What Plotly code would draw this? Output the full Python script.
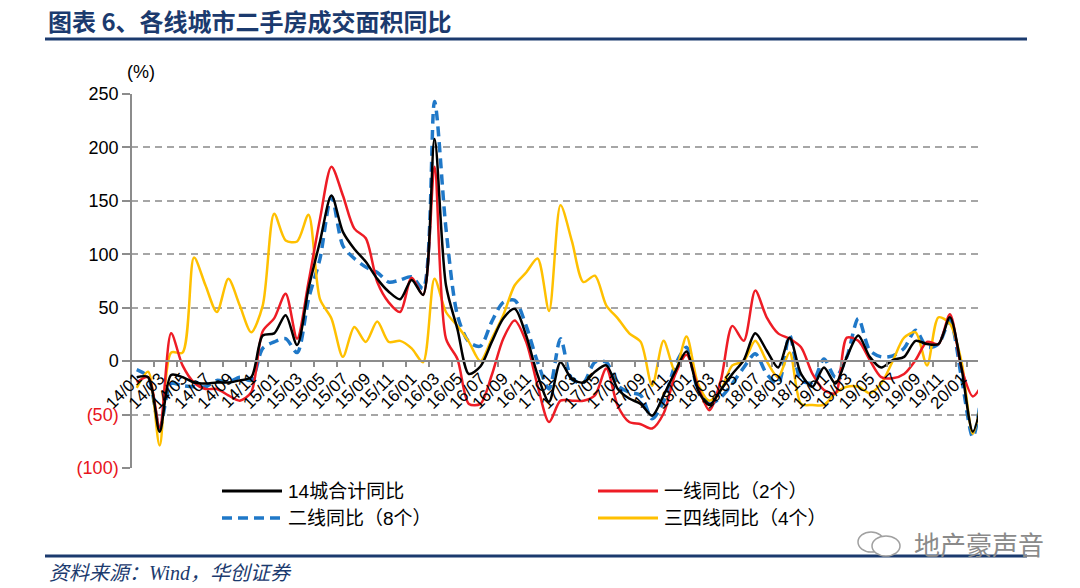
import plotly.graph_objects as go

# monthly, 2014/01 .. 2020/03 (last month sits just past the axis end)
months = [f"{y:02d}/{m:02d}" for y in range(14, 21) for m in range(1, 13)][:75]
tick_labels = months[0:73:2]

total_14 = [-15, -15, -66, -13, -15, -20, -21, -20, -20, -18, -15, 24, 26, 43, 15, 68, 112, 155, 121, 105,
            93, 77, 65, 58, 76, 62, 208, 71, 30, -12, -5, 18, 40, 49, 24, -13, -38, -1, -17, -20,
            -10, -4, -26, -35, -40, -51, -32, -10, 9, -27, -41, -27, -12, 1, 26, 10, -6, 22, -12, -24,
            -6, -21, 4, 24, 4, -6, 1, 4, 19, 16, 16, 41, -6, -66, -25]
tier1 = [-20, -15, -62, 26, -4, -20, -26, -26, -32, -37, -29, 28, 40, 63, 21, 74, 133, 182, 155, 124,
         115, 74, 55, 46, 78, 62, 182, 21, 2, -40, -40, -13, 21, 38, 18, -23, -57, -37, -37, -37,
         -32, -7, -42, -57, -59, -63, -49, -13, 6, -24, -46, -18, 33, 19, 66, 41, 26, 21, 13, -12,
         -27, -30, 22, 19, 1, -15, -16, -12, 1, 18, 16, 44, -6, -33, -18]
tier2 = [-8, -15, -63, -21, -23, -24, -24, -18, -20, -15, -18, 12, 18, 21, 8, 58, 96, 154, 108, 96,
         88, 83, 74, 76, 79, 68, 243, 124, 43, 18, 14, 37, 55, 57, 33, -1, -26, 21, -17, -20,
         -1, -1, -23, -29, -32, -54, -38, -4, 13, -27, -40, -34, -21, -6, 7, -12, -21, 24, -18, -20,
         2, -15, 4, 40, 10, 4, 5, 12, 29, 13, 16, 38, -15, -71, -12]
tier34 = [-25, -10, -79, 8, 8, 97, 71, 46, 77, 52, 27, 52, 138, 113, 112, 137, 58, 40, 4, 32,
          18, 37, 18, 19, 12, -1, 77, 46, 33, 18, 0, 21, 43, 71, 83, 96, 47, 146, 112, 74,
          80, 52, 40, 26, 18, -23, 19, -9, 23, -21, -37, -27, -4, 0, 19, 0, -15, 8, -40, -41,
          -41, -30, -24, -24, -30, -21, 0, 22, 27, -4, 41, 35, 0, -68, -20]

y_ticks = [-100, -50, 0, 50, 100, 150, 200, 250]

NAVY = "#1B3A6E"
GREY = "#8C8C8C"
BASE_FONT = "Liberation Sans, Noto Sans CJK SC, sans-serif"
CJK_FONT = "Noto Sans CJK SC, sans-serif"

# plot area in pixels
PL, PR, PT, PB = 131, 978, 94, 468


def px(x):
    return (x - PL) / (PR - PL)


def py(y):
    return (PB - y) / (PB - PT)


def y_label(v):
    if v < 0:
        return f'<span style="color:#E8141B">({-v})</span>'
    return str(v)


series = [
    ("14城合计同比", total_14, "#000000", "solid", 2.5),
    ("一线同比（2个）", tier1, "#EE1C25", "solid", 2.5),
    ("二线同比（8个）", tier2, "#1F78C8", "10px,6px", 3.5),
    ("三四线同比（4个）", tier34, "#FFC000", "solid", 2.5),
]

fig = go.Figure()
for name, vals, color, dash, width in series:
    fig.add_trace(go.Scatter(
        x=months, y=vals, name=name, mode="lines",
        line=dict(color=color, width=width, dash=dash, shape="spline", smoothing=0.8),
        showlegend=False,
    ))

# draw order like the reference: blue under the solids
fig.data = (fig.data[2], fig.data[3], fig.data[1], fig.data[0])

fig.update_layout(
    width=1080, height=588,
    margin=dict(l=PL, r=1080 - PR, t=PT, b=588 - PB),
    paper_bgcolor="white", plot_bgcolor="white",
    font=dict(family=BASE_FONT, color="#000000"),
    xaxis=dict(
        type="category", range=[-0.5, 73.45],
        tickmode="array", tickvals=tick_labels, ticktext=tick_labels,
        tickson="boundaries", tickangle=-45,
        tickfont=dict(size=17, color="#000000"),
        ticks="outside", ticklen=5, tickcolor=GREY, tickwidth=1.5,
        showline=True, linecolor=GREY, linewidth=1.5,
        showgrid=False, zeroline=False,
        anchor="free", position=100 / 350,
    ),
    yaxis=dict(
        range=[-100, 250],
        tickmode="array", tickvals=y_ticks, ticktext=[y_label(v) for v in y_ticks],
        tickfont=dict(size=18, color="#000000"),
        ticks="outside", ticklen=8, tickcolor=GREY, tickwidth=1.5,
        showline=True, linecolor=GREY, linewidth=1.5,
        showgrid=True, gridcolor="#A6A6A6", gridwidth=1.5, griddash="7px,5px",
        zeroline=False, anchor="free", position=0,
    ),
)

shapes = [
    dict(type="line", xref="paper", yref="paper", x0=px(45), x1=px(1027), y0=py(39), y1=py(39),
         line=dict(color=NAVY, width=3)),
    dict(type="line", xref="paper", yref="paper", x0=px(45), x1=px(1027), y0=py(556), y1=py(556),
         line=dict(color=NAVY, width=3)),
    # wechat-ish mark next to the watermark
    dict(type="circle", xref="paper", yref="paper", x0=px(858), x1=px(884), y0=py(552), y1=py(532),
         line=dict(color="#A0A0A0", width=1.5)),
    dict(type="circle", xref="paper", yref="paper", x0=px(872), x1=px(900), y0=py(556), y1=py(536),
         line=dict(color="#A0A0A0", width=1.5), fillcolor="white"),
]

annotations = [
    dict(text="<b>图表 6、各线城市二手房成交面积同比</b>", x=px(46), y=py(20), xref="paper", yref="paper",
         xanchor="left", yanchor="middle", showarrow=False,
         font=dict(family=CJK_FONT, size=24, color=NAVY)),
    dict(text="(%)", x=px(141), y=py(72), xref="paper", yref="paper",
         xanchor="center", yanchor="middle", showarrow=False, font=dict(size=18, color="#000000")),
    dict(text="<i>资料来源：Wind，华创证券</i>", x=px(47), y=py(573), xref="paper", yref="paper",
         xanchor="left", yanchor="middle", showarrow=False,
         font=dict(family="Liberation Serif, Noto Sans CJK SC, serif", size=20, color=NAVY)),
    dict(text="地产豪声音", x=px(1046), y=py(543), xref="paper", yref="paper",
         xanchor="right", yanchor="middle", showarrow=False,
         font=dict(family=CJK_FONT, size=26, color="#8A8A8A")),
]

# legend drawn by hand: two columns, two rows
legend_pos = [(222, 491), (598, 491), (222, 518), (598, 518)]
for (name, vals, color, dash, width), (lx, ly) in zip(series, legend_pos):
    shapes.append(dict(type="line", xref="paper", yref="paper",
                       x0=px(lx), x1=px(lx + 60), y0=py(ly), y1=py(ly),
                       line=dict(color=color, width=3 if dash == "solid" else 3.5, dash=dash)))
    annotations.append(dict(text=name, x=px(lx + 64), y=py(ly), xref="paper", yref="paper",
                            xanchor="left", yanchor="middle", showarrow=False,
                            font=dict(family=BASE_FONT, size=19, color="#000000")))

fig.update_layout(shapes=shapes, annotations=annotations)

# the page's default body margin would push the figure 8px off; drop it
fig.write_html("out.html", config={"displayModeBar": False},
               post_script="document.body.style.margin = '0px';")
